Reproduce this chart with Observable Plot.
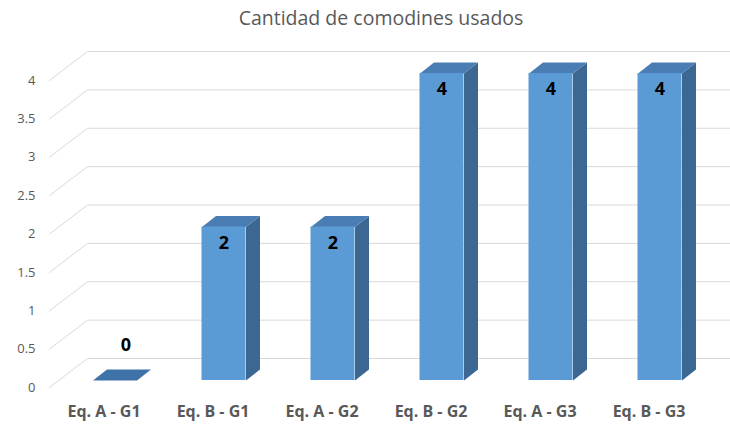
<!DOCTYPE html>
<html>
<head>
<meta charset="utf-8">
<script src="https://cdn.jsdelivr.net/npm/d3@7"></script>
<script src="https://cdn.jsdelivr.net/npm/@observablehq/plot@0.6"></script>
<style>
  html, body { margin: 0; padding: 0; background: #fff; overflow: hidden; }
  #title { height: 34px; line-height: 36px; text-align: center; font-family: "Open Sans", sans-serif; font-size: 19.5px; color: #595959; padding-left: 32px; }
  #chart svg { overflow: hidden; }
</style>
</head>
<body>
<div id="title">Cantidad de comodines usados</div>
<div id="chart"></div>
<script>
const categories = ["Eq. A - G1", "Eq. B - G1", "Eq. A - G2", "Eq. B - G2", "Eq. A - G3", "Eq. B - G3"];
const values = [0, 2, 2, 4, 4, 4];
const yTicks = [0, 0.5, 1, 1.5, 2, 2.5, 3, 3.5, 4];

// layout (pixels)
const W = 730, H = 394;
const xRange = [49, 703];
const yRange = [353, 46];
const yDomain = [0, 4];
const pxPerX = (xRange[1] - xRange[0]) / categories.length;
const pxPerY = (yRange[0] - yRange[1]) / (yDomain[1] - yDomain[0]);
const ux = px => px / pxPerX;   // pixel -> x data units
const uy = px => px / pxPerY;   // pixel -> y data units

// oblique depth offsets (pixels)
const WALL = [38, 29];  // floor depth
const FRONT = [11, 7];  // bar front face set back
const DEPTH = [14, 11]; // bar depth
const HALF = 22;        // half bar width

const bars = categories.map((c, i) => ({c, i, v: values[i]}));

// gridlines: slanted left segment + back wall
const grid = [];
for (const t of yTicks) {
  grid.push({t, x: -0.5, y: t});
  grid.push({t, x: -0.5 + ux(WALL[0]), y: t + uy(WALL[1])});
  grid.push({t, x: 5.5 + ux(WALL[0]), y: t + uy(WALL[1])});
}

const fx = ux(FRONT[0]), fy = uy(FRONT[1]);
const bx = ux(DEPTH[0]), by = uy(DEPTH[1]);
const hw = ux(HALF);

const tops = [], sides = [];
for (const b of bars) {
  const l = b.i - hw + fx, r = b.i + hw + fx, y = b.v + fy;
  tops.push({i: b.i, x: l, y}, {i: b.i, x: r, y}, {i: b.i, x: r + bx, y: y + by}, {i: b.i, x: l + bx, y: y + by});
  if (b.v > 0) {
    sides.push({i: b.i, x: r, y: fy}, {i: b.i, x: r, y}, {i: b.i, x: r + bx, y: y + by}, {i: b.i, x: r + bx, y: fy + by});
  }
}
const nonZero = bars.filter(b => b.v > 0);
const zero = bars.filter(b => b.v === 0);

const font = '"Open Sans", sans-serif';

const chart = Plot.plot({
  width: W,
  height: H,
  marginLeft: xRange[0],
  marginRight: W - xRange[1],
  marginTop: yRange[1],
  marginBottom: H - yRange[0],
  x: {domain: [-0.5, 5.5], axis: null},
  y: {domain: yDomain, axis: null},
  style: {fontFamily: font, background: "#fff"},
  marks: [
    Plot.line(grid, {x: "x", y: "y", z: "t", stroke: "#d9d9d9", strokeWidth: 1}),
    Plot.line(sides, {x: "x", y: "y", z: "i", fill: "#3b6792", stroke: "none"}),
    Plot.line(tops.filter(d => values[d.i] > 0), {x: "x", y: "y", z: "i", fill: "#4a7db3", stroke: "none"}),
    Plot.line(tops.filter(d => values[d.i] === 0), {x: "x", y: "y", z: "i", fill: "#3f72a8", stroke: "none"}),
    Plot.rect(nonZero, {x1: d => d.i - hw + fx, x2: d => d.i + hw + fx, y1: fy, y2: d => d.v + fy, fill: "#5b9bd5"}),
    Plot.text(nonZero, {x: d => d.i + fx, y: d => d.v + fy, dy: 16, text: d => String(d.v), fontSize: 18, fontWeight: "bold", fill: "#000"}),
    Plot.text(zero, {x: d => d.i + fx, y: d => d.v + fy, dx: 11, dy: -35, text: d => String(d.v), fontSize: 18, fontWeight: "bold", fill: "#000"}),
    Plot.text(yTicks, {x: -0.5, y: d => d, dx: -14, textAnchor: "end", text: d => String(d), fontSize: 13, fill: "#595959"}),
    Plot.text(bars, {x: "i", y: 0, dy: 24, text: "c", fontSize: 16, fontWeight: "bold", fill: "#595959"})
  ]
});
document.getElementById("chart").appendChild(chart);
</script>
</body>
</html>
